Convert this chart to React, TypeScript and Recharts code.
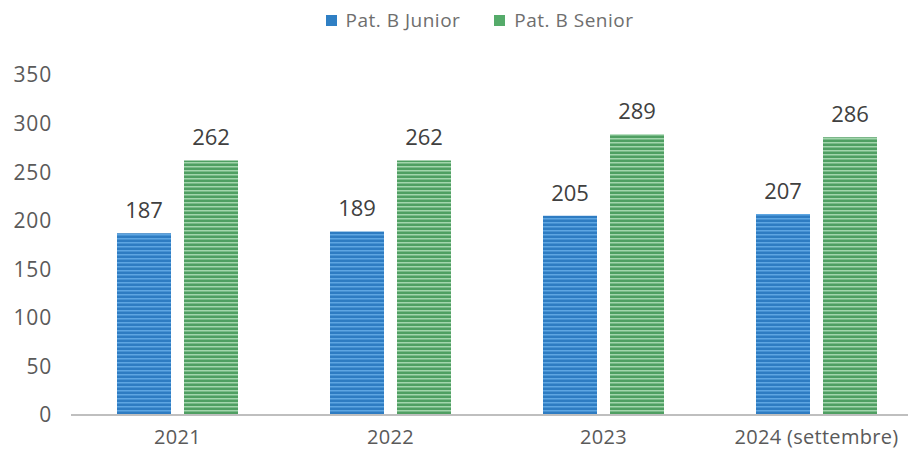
import React from "react";
import { BarChart, Bar, XAxis, YAxis, Legend, LabelList } from "recharts";

const categories = ["2021", "2022", "2023", "2024 (settembre)"];
const junior = [187, 189, 205, 207];
const senior = [262, 262, 289, 286];
const yTicks = [0, 50, 100, 150, 200, 250, 300, 350];

const data = categories.map((c, i) => ({ name: c, junior: junior[i], senior: senior[i] }));

const FONT = "'Open Sans', 'Liberation Sans', Arial, sans-serif";

const renderLegend = () => (
  <div style={{ display: "flex", justifyContent: "center", alignItems: "center", height: 24, fontFamily: FONT, fontSize: 19, letterSpacing: 0.5, color: "#6e6e6e", paddingLeft: 36 }}>
    <span style={{ display: "flex", alignItems: "center", marginRight: 34 }}>
      <span style={{ width: 11, height: 11, background: "#2f7fc4", marginRight: 9, display: "inline-block" }} />
      Pat. B Junior
    </span>
    <span style={{ display: "flex", alignItems: "center" }}>
      <span style={{ width: 11, height: 11, background: "#55ab6a", marginRight: 9, display: "inline-block" }} />
      Pat. B Senior
    </span>
  </div>
);

export default function App() {
  return (
    <div style={{ margin: -8, width: 916, height: 458, overflow: "hidden", background: "#fff" }}>
      <BarChart
        width={923}
        height={458}
        data={data}
        margin={{ top: 51, right: 0, bottom: 0, left: 0 }}
        barGap={13}
        barCategoryGap={46}
      >
        <defs>
          <pattern id="blueStripes" width="6" height="4" patternUnits="userSpaceOnUse">
            <rect width="6" height="4" fill="#2e7cc2" />
            <rect y="2" width="6" height="1.5" fill="#5ea6e2" />
          </pattern>
          <pattern id="greenStripes" width="6" height="4" patternUnits="userSpaceOnUse">
            <rect width="6" height="4" fill="#4f9f62" />
            <rect y="2" width="6" height="1.5" fill="#a3d6ad" />
          </pattern>
        </defs>
        <Legend
          verticalAlign="top"
          content={renderLegend}
          wrapperStyle={{ top: 8, left: 0, width: 923 }}
        />
        <XAxis
          dataKey="name"
          height={43}
          tickLine={false}
          axisLine={{ stroke: "#bfbfbf", strokeWidth: 2 }}
          tick={{ fill: "#5a5a5a", fontSize: 20, fontFamily: FONT, letterSpacing: 0.3 }}
          tickMargin={9}
        />
        <YAxis
          width={71}
          domain={[0, 350]}
          ticks={yTicks}
          interval={0}
          tickLine={false}
          axisLine={false}
          tickMargin={13}
          tick={{ fill: "#5a5a5a", fontSize: 21, fontFamily: FONT, letterSpacing: 0.8 }}
        />
        <Bar dataKey="junior" name="Pat. B Junior" fill="url(#blueStripes)" isAnimationActive={false}>
          <LabelList dataKey="junior" position="top" offset={15} fill="#404040" fontSize={22} fontFamily={FONT} />
        </Bar>
        <Bar dataKey="senior" name="Pat. B Senior" fill="url(#greenStripes)" isAnimationActive={false}>
          <LabelList dataKey="senior" position="top" offset={15} fill="#404040" fontSize={22} fontFamily={FONT} />
        </Bar>
      </BarChart>
    </div>
  );
}
